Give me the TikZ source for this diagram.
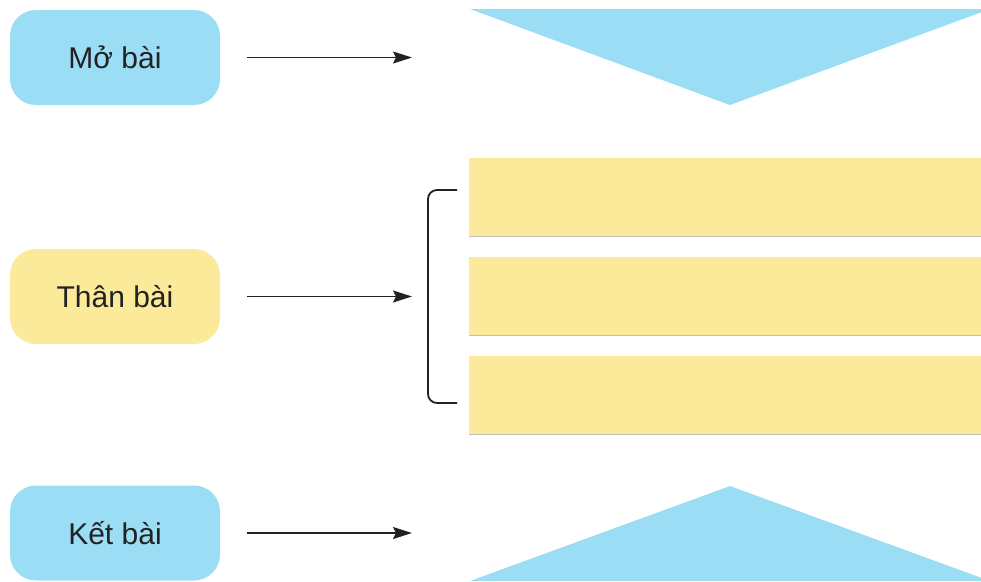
\documentclass[tikz,border=0pt]{standalone}
\usepackage{fontspec}
\setmainfont{Liberation Sans}
\usetikzlibrary{arrows.meta}
\definecolor{skyfill}{HTML}{9CDDF6}
\definecolor{sandfill}{HTML}{FCEA9B}
\definecolor{inkgrey}{HTML}{222222}
\tikzset{
  partbox/.style={rounded corners=26pt, minimum width=210pt, minimum height=95pt,
    inner sep=0pt, font=\fontsize{30}{33}\selectfont, text=inkgrey},
  bodybar/.style={fill=sandfill, draw=none, minimum width=560pt, minimum height=78pt,
    inner sep=0pt, anchor=north west},
  pointer/.style={draw=inkgrey, line width=1.4pt,
    -{Stealth[length=19pt, width=12pt, inset=3pt]}},
  bracket/.style={draw=inkgrey, line width=1.8pt, rounded corners=9pt},
}
\begin{document}
\begin{tikzpicture}[x=1pt, y=-1pt]
  \useasboundingbox (0,0) rectangle (981,581);
  \clip (0,0) rectangle (981,581);

  % left-hand labels
  \node[partbox, fill=skyfill]  (mo)  at (115,57.5)  {Mở bài};
  \node[partbox, fill=sandfill] (than) at (115,296.5) {Thân bài};
  \node[partbox, fill=skyfill]  (ket) at (115,533)   {Kết bài};

  % opening funnel (points down)
  \fill[skyfill] (470,9) -- (990,9) -- (730,105) -- cycle;
  % closing funnel (points up)
  \fill[skyfill] (470,581) -- (730,486) -- (990,581) -- cycle;

  % three body paragraphs
  \node[bodybar] (p1) at (469,158) {};
  \node[bodybar] (p2) at (469,257) {};
  \node[bodybar] (p3) at (469,356) {};
  \foreach \p in {p1,p2,p3}
    \draw[black!25, line width=0.8pt] (\p.south west) -- (\p.south east);

  % bracket grouping the paragraphs
  \coordinate (bTop) at (457,190);
  \coordinate (bBot) at (457,403);
  \draw[bracket] (bTop) -- (428,190) -- (428,403) -- (bBot);

  % arrows
  \coordinate (moEnd)   at (412,57.5);
  \coordinate (thanEnd) at (412,296.5);
  \coordinate (ketEnd)  at (412,533);
  \draw[pointer, shorten <=27pt] (mo.east)   -- (moEnd);
  \draw[pointer, shorten <=27pt] (than.east) -- (thanEnd);
  \draw[pointer, shorten <=27pt] (ket.east)  -- (ketEnd);
\end{tikzpicture}
\end{document}
